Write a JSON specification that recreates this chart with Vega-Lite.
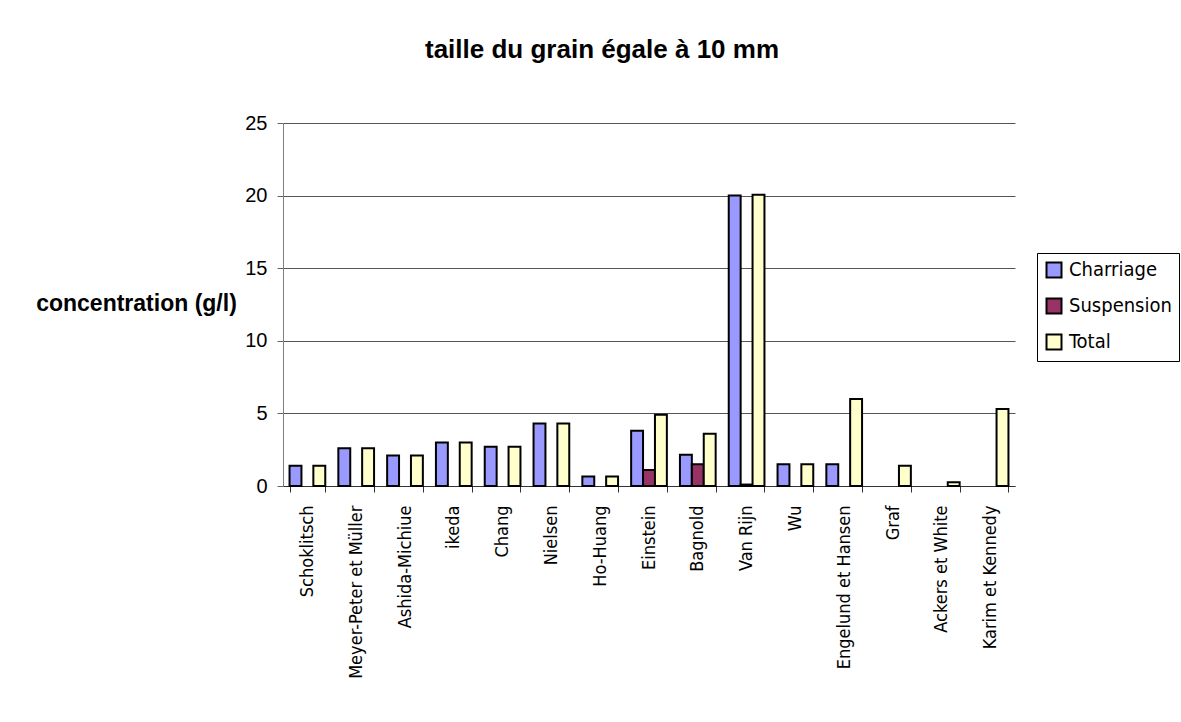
{
  "$schema": "https://vega.github.io/schema/vega-lite/v6.json",
  "width": 732,
  "height": 363,
  "autosize": "none",
  "padding": {"left": 283, "top": 123, "right": 166, "bottom": 236},
  "background": "white",
  "title": {
    "text": "taille du grain égale à 10 mm",
    "font": "Liberation Sans",
    "fontSize": 26,
    "fontWeight": "bold",
    "color": "black",
    "anchor": "middle",
    "baseline": "alphabetic",
    "offset": 29,
    "dx": -47
  },
  "data": {
    "values": [
      {"method": "Schoklitsch", "series": "Charriage", "value": 1.4},
      {"method": "Schoklitsch", "series": "Total", "value": 1.4},
      {"method": "Meyer-Peter et Müller", "series": "Charriage", "value": 2.6},
      {"method": "Meyer-Peter et Müller", "series": "Total", "value": 2.6},
      {"method": "Ashida-Michiue", "series": "Charriage", "value": 2.1},
      {"method": "Ashida-Michiue", "series": "Total", "value": 2.1},
      {"method": "ikeda", "series": "Charriage", "value": 3.0},
      {"method": "ikeda", "series": "Total", "value": 3.0},
      {"method": "Chang", "series": "Charriage", "value": 2.7},
      {"method": "Chang", "series": "Total", "value": 2.7},
      {"method": "Nielsen", "series": "Charriage", "value": 4.3},
      {"method": "Nielsen", "series": "Total", "value": 4.3},
      {"method": "Ho-Huang", "series": "Charriage", "value": 0.65},
      {"method": "Ho-Huang", "series": "Total", "value": 0.65},
      {"method": "Einstein", "series": "Charriage", "value": 3.8},
      {"method": "Einstein", "series": "Suspension", "value": 1.1},
      {"method": "Einstein", "series": "Total", "value": 4.9},
      {"method": "Bagnold", "series": "Charriage", "value": 2.15},
      {"method": "Bagnold", "series": "Suspension", "value": 1.5},
      {"method": "Bagnold", "series": "Total", "value": 3.6},
      {"method": "Van Rijn", "series": "Charriage", "value": 20.0},
      {"method": "Van Rijn", "series": "Suspension", "value": 0.1},
      {"method": "Van Rijn", "series": "Total", "value": 20.05},
      {"method": "Wu", "series": "Charriage", "value": 1.5},
      {"method": "Wu", "series": "Total", "value": 1.5},
      {"method": "Engelund et Hansen", "series": "Charriage", "value": 1.5},
      {"method": "Engelund et Hansen", "series": "Total", "value": 6.0},
      {"method": "Graf", "series": "Total", "value": 1.4},
      {"method": "Ackers et White", "series": "Total", "value": 0.25},
      {"method": "Karim et Kennedy", "series": "Total", "value": 5.3}
    ]
  },
  "mark": {"type": "bar", "stroke": "black", "strokeWidth": 2},
  "encoding": {
    "x": {
      "field": "method",
      "type": "nominal",
      "sort": ["Schoklitsch", "Meyer-Peter et Müller", "Ashida-Michiue", "ikeda", "Chang", "Nielsen", "Ho-Huang", "Einstein", "Bagnold", "Van Rijn", "Wu", "Engelund et Hansen", "Graf", "Ackers et White", "Karim et Kennedy"],
      "scale": {"paddingInner": 0.268, "paddingOuter": 0.134},
      "axis": {
        "title": null,
        "tickBand": "extent",
        "labelAngle": -90,
        "labelAlign": "right",
        "labelBaseline": "middle",
        "labelPadding": 13,
        "labelFont": "DejaVu Sans Condensed, DejaVu Sans",
        "labelFontSize": 18,
        "labelColor": "black",
        "labelLimit": 300,
        "tickSize": 6,
        "tickColor": "#333",
        "domainColor": "#333",
        "domainWidth": 1,
        "grid": false
      }
    },
    "xOffset": {
      "field": "series",
      "sort": ["Charriage", "Suspension", "Total"],
      "scale": {"domain": ["Charriage", "Suspension", "Total"], "paddingInner": 0, "paddingOuter": 0}
    },
    "y": {
      "field": "value",
      "type": "quantitative",
      "scale": {"domain": [0, 25], "nice": false},
      "axis": {
        "values": [0, 5, 10, 15, 20, 25],
        "title": "concentration (g/l)",
        "titleAngle": 0,
        "titleAlign": "center",
        "titleBaseline": "middle",
        "titleX": -147,
        "titleY": 180,
        "titleFont": "Liberation Sans",
        "titleFontSize": 23,
        "titleFontWeight": "bold",
        "titleColor": "black",
        "labelFont": "Liberation Sans",
        "labelFontSize": 20,
        "labelColor": "black",
        "labelPadding": 10,
        "tickSize": 6,
        "tickColor": "#666",
        "domainColor": "#808080",
        "grid": true,
        "gridColor": "#555",
        "gridWidth": 1,
        "gridOpacity": 1
      }
    },
    "color": {
      "field": "series",
      "type": "nominal",
      "scale": {"domain": ["Charriage", "Suspension", "Total"], "range": ["#9999FF", "#993366", "#FFFFCC"]},
      "legend": {
        "title": null,
        "orient": "none",
        "legendX": 754,
        "legendY": 130,
        "strokeColor": "black",
        "fillColor": "white",
        "padding": 7,
        "rowPadding": 12,
        "symbolType": "square",
        "symbolSize": 225,
        "symbolStrokeColor": "black",
        "symbolStrokeWidth": 2,
        "symbolOpacity": 1,
        "labelFont": "DejaVu Sans Condensed, DejaVu Sans",
        "labelFontSize": 20,
        "labelColor": "black",
        "labelOffset": 5
      }
    }
  },
  "config": {
    "view": {"stroke": null}
  }
}
